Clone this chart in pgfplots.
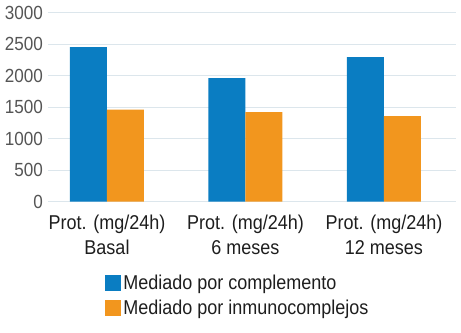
\documentclass[border=0pt]{standalone}
\usepackage{fontspec}
\setmainfont{Liberation Sans}[FakeStretch=0.9]
\usepackage{pgfplots}
\pgfplotsset{compat=1.18}
\definecolor{cblue}{HTML}{0A7DC2}
\definecolor{corange}{HTML}{F2961E}
\definecolor{cgrid}{HTML}{DCE6EC}
\definecolor{ctick}{HTML}{555555}
\definecolor{ctext}{HTML}{1E1E1E}
\begin{document}
\begin{tikzpicture}
\begin{axis}[
  scale only axis, width=408bp, height=189bp,
  ymin=0, ymax=3000, ytick={0,500,...,3000},
  xmin=-0.426, xmax=2.52,
  xtick={0,1,2},
  xticklabels={{Prot. (mg/24h)\\Basal},{Prot. (mg/24h)\\6 meses},{Prot. (mg/24h)\\12 meses}},
  axis line style={draw=none}, major tick length=0pt,
  ymajorgrids, grid style={cgrid, line width=1bp},
  ybar=0pt, bar width=37bp,
  /pgf/number format/assume math mode=true,
  /pgf/number format/set thousands separator={},
  yticklabel style={font=\fontsize{19bp}{22bp}\selectfont, text=ctick, inner xsep=0pt, xshift=-5bp},
  xticklabel style={font=\fontsize{20bp}{25bp}\selectfont, text=ctext, align=center, yshift=-10bp},
  legend style={draw=none, fill=none, at={(0.14,-0.375)}, anchor=north west, inner sep=0pt,
    font=\fontsize{20bp}{24bp}\selectfont, text=ctext, row sep=5bp, legend cell align=left},
  legend image code/.code={\fill[#1, draw=none] (0bp,-8bp) rectangle (16bp,8bp);},
]
\addplot[fill=cblue, draw=none] coordinates {(0,2450) (1,1960) (2,2290)};
\addplot[fill=corange, draw=none] coordinates {(0,1460) (1,1420) (2,1355)};
\legend{Mediado por complemento, Mediado por inmunocomplejos}
\end{axis}
\pgfresetboundingbox
\path (current axis.south west) ++(-48bp,-131.5bp) rectangle ++(461bp,333bp);
\end{tikzpicture}
\end{document}
